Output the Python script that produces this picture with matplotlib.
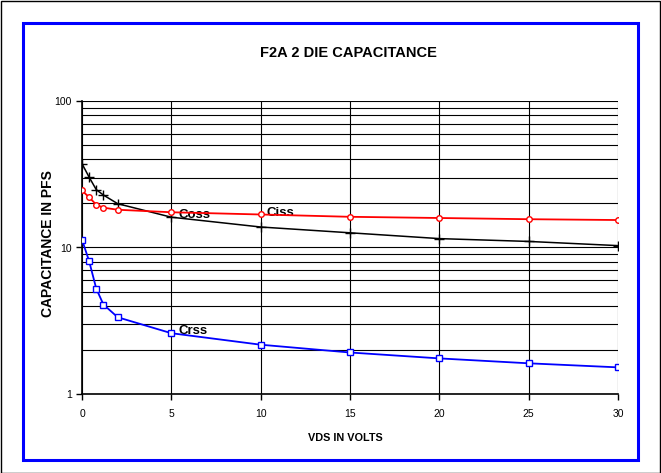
import matplotlib.pyplot as plt
from matplotlib.patches import Rectangle
from matplotlib.ticker import FixedLocator, NullFormatter

plt.rcParams['font.family'] = ['Liberation Sans', 'DejaVu Sans']

vds = [0, 0.4, 0.8, 1.2, 2, 5, 10, 15, 20, 25, 30]
coss = [37.3, 30.2, 24.8, 22.8, 19.9, 16.1, 13.8, 12.6, 11.5, 11.0, 10.3]
ciss = [24.5, 22.0, 19.6, 18.7, 18.1, 17.4, 16.8, 16.2, 15.9, 15.6, 15.4]
crss = [11.3, 8.06, 5.23, 4.08, 3.34, 2.60, 2.17, 1.92, 1.75, 1.62, 1.52]

fig = plt.figure(figsize=(6.61, 4.73), dpi=100)

# outer black border and blue frame
fig.patches.append(Rectangle((0.001, 0.001), 0.998, 0.997, transform=fig.transFigure,
                             fill=False, edgecolor='black', linewidth=1))
fig.patches.append(Rectangle((23 / 661, 1 - 460 / 473), 615 / 661, 437 / 473,
                             transform=fig.transFigure, fill=False,
                             edgecolor='#0000ff', linewidth=2.2))

ax = fig.add_axes([82 / 661, 1 - 394 / 473, 536 / 661, 293 / 473])
ax.set_yscale('log')
ax.set_xlim(0, 30)
ax.set_ylim(1, 100)

ax.plot(vds, coss, color='black', lw=1.1, marker='+', ms=7, mew=1, zorder=3)
ax.plot(vds, ciss, color='red', lw=1.3, marker='o', ms=4, mfc='white', mew=1, zorder=4)
ax.plot(vds, crss, color='#0000ff', lw=1.3, marker='s', ms=5, mfc='white', mew=1, zorder=4)

ax.text(5.4, coss[5] * 1.03, 'Coss', fontsize=9.5, fontweight='bold', va='center')
ax.text(10.35, ciss[6] * 1.03, 'Ciss', fontsize=9.5, fontweight='bold', va='center')
ax.text(5.4, crss[5] * 1.04, 'Crss', fontsize=9.5, fontweight='bold', va='center')

ax.set_xticks([0, 5, 10, 15, 20, 25, 30])
ax.set_yticks([1, 10, 100])
ax.set_yticklabels(['1', '10', '100'])
ax.yaxis.set_minor_locator(FixedLocator([m * d for d in (1, 10) for m in range(2, 10)]))
ax.yaxis.set_minor_formatter(NullFormatter())
ax.tick_params(axis='both', which='major', labelsize=7.5, length=4, width=1, direction='out')
ax.tick_params(axis='x', pad=7)
ax.tick_params(axis='y', which='minor', length=0)
ax.grid(True, which='both', axis='y', color='black', lw=0.8)
ax.grid(True, which='major', axis='x', color='black', lw=0.8)

for s in ['top', 'right']:
    ax.spines[s].set_visible(False)
for s in ['left', 'bottom']:
    ax.spines[s].set_linewidth(1.2)

fig.text(345 / 661, 1 - 438 / 473, 'VDS IN VOLTS', ha='center', va='center',
         fontsize=7.8, fontweight='bold')
fig.text(48 / 661, 1 - 244 / 473, 'CAPACITANCE IN PFS', ha='center', va='center',
         rotation=90, fontsize=10, fontweight='bold')
fig.text(348 / 661, 1 - 53 / 473, 'F2A 2 DIE CAPACITANCE', ha='center', va='center',
         fontsize=10.5, fontweight='bold')

fig.savefig('out.png', dpi=100)
